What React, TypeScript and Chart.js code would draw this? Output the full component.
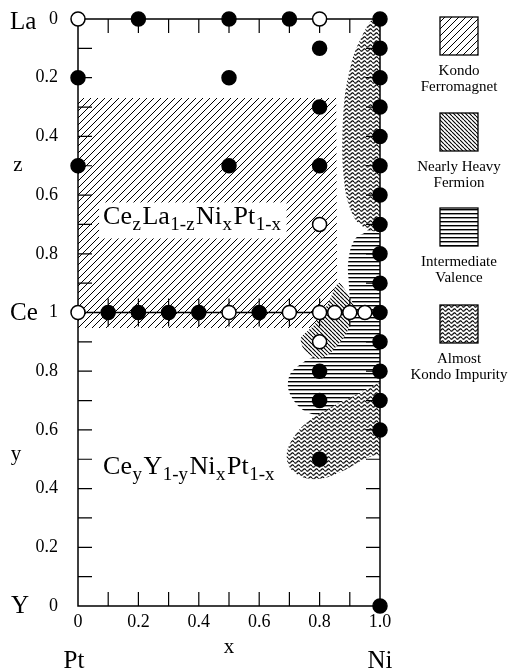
import React, { useEffect, useRef } from 'react';
import { Chart, registerables } from 'chart.js';

Chart.register(...registerables);

const FONT = '"Liberation Serif", "Times New Roman", serif';

// ---- data ----
// Upper half: Ce_z La_(1-z) Ni_x Pt_(1-x)   [x, z]   (z = 0 at La, z = 1 at Ce)
const laFilled: number[][] = [
  [0.2, 0], [0.5, 0], [0.7, 0], [1, 0],
  [0.8, 0.1], [1, 0.1],
  [0, 0.2], [0.5, 0.2], [1, 0.2],
  [0.8, 0.3], [1, 0.3],
  [1, 0.4],
  [0, 0.5], [0.5, 0.5], [0.8, 0.5], [1, 0.5],
  [1, 0.6], [1, 0.7], [1, 0.8], [1, 0.9],
];
const laOpen: number[][] = [[0, 0], [0.8, 0], [0.8, 0.7]];
// CeNi_x Pt_(1-x) line
const ceFilledX = [0.1, 0.2, 0.3, 0.4, 0.6, 1.0];
const ceOpenX = [0, 0.5, 0.7, 0.8, 0.85, 0.9, 0.95];
// Lower half: Ce_y Y_(1-y) Ni_x Pt_(1-x)   [x, y]
const yFilled: number[][] = [
  [0.8, 0.8], [0.8, 0.7], [0.8, 0.5],
  [1, 0.9], [1, 0.8], [1, 0.7], [1, 0.6], [1, 0],
];
const yOpen: number[][] = [[0.8, 0.9]];

// Regions on the combined vertical scale v (v = y in lower half, v = 2 - z in upper half)
const kondoFerro: number[][] = [
  [0, 1.731], [0.855, 1.731], [0.858, 1.09], [0.82, 0.947], [0, 0.947],
];
const intermValence: number[][] = [
  [1.03, 1.27], [0.94, 1.267], [0.907, 1.23], [0.894, 1.162], [0.897, 1.094], [0.90, 1.0],
  [0.87, 0.93], [0.80, 0.862], [0.745, 0.83], [0.705, 0.795], [0.695, 0.75], [0.709, 0.709],
  [0.745, 0.668], [0.80, 0.652], [0.87, 0.685], [0.94, 0.715], [1.0, 0.745], [1.03, 0.75],
];
const kondoImpTop: number[][] = [
  [0.99, 1.997], [0.967, 1.99], [0.935, 1.93], [0.908, 1.86], [0.882, 1.724], [0.875, 1.554],
  [0.881, 1.45], [0.892, 1.383], [0.915, 1.322], [0.95, 1.288], [0.993, 1.274], [1.03, 1.274], [1.03, 1.997],
];
const kondoImpBottom: number[][] = [
  [1.03, 0.765], [1.0, 0.762], [0.934, 0.726], [0.851, 0.685], [0.768, 0.634], [0.719, 0.583],
  [0.692, 0.525], [0.702, 0.47], [0.752, 0.436], [0.818, 0.436], [0.884, 0.463], [0.94, 0.497],
  [0.983, 0.514], [1.03, 0.53],
];
const nearlyHeavy: number[][] = [
  [0.868, 1.10], [0.913, 1.026], [0.903, 0.974], [0.886, 0.923], [0.836, 0.862], [0.795, 0.842],
  [0.750, 0.870], [0.738, 0.913], [0.782, 0.957], [0.826, 1.026], [0.849, 1.08],
];

const yTickValues = [0, 0.2, 0.4, 0.6, 0.8, 1, 1.2, 1.4, 1.6, 1.8, 2];
const legendLabels = [
  ['Kondo', 'Ferromagnet'],
  ['Nearly Heavy', 'Fermion'],
  ['Intermediate', 'Valence'],
  ['Almost', 'Kondo Impurity'],
];

// ---- patterns ----
let patternCache: any = null;
function tile(ctx: CanvasRenderingContext2D, w: number, h: number, draw: (g: CanvasRenderingContext2D) => void) {
  const c = document.createElement('canvas');
  c.width = w; c.height = h;
  const g = c.getContext('2d')!;
  g.fillStyle = '#fff';
  g.fillRect(0, 0, w, h);
  g.strokeStyle = '#000';
  g.fillStyle = '#000';
  draw(g);
  return ctx.createPattern(c, 'repeat');
}
function getPatterns(ctx: CanvasRenderingContext2D) {
  if (patternCache) return patternCache;
  const kf = tile(ctx, 7, 7, (g) => {
    g.lineWidth = 1;
    g.beginPath();
    for (const k of [-7, 0, 7]) { g.moveTo(k, 7); g.lineTo(k + 7, 0); }
    g.stroke();
  });
  const nhf = tile(ctx, 4, 4, (g) => {
    g.lineWidth = 1.1;
    g.beginPath();
    for (const k of [-4, 0, 4]) { g.moveTo(k, 0); g.lineTo(k + 4, 4); }
    g.stroke();
  });
  const iv = tile(ctx, 4, 4, (g) => {
    g.fillRect(0, 1, 4, 1.4);
  });
  const aki = tile(ctx, 6, 4, (g) => {
    g.lineWidth = 1.2;
    for (const off of [-4, 0, 4]) {
      g.beginPath();
      for (let i = 0; i <= 24; i++) {
        const xx = (i / 24) * 6;
        const yy = 2 + off + 1.2 * Math.sin((2 * Math.PI * xx) / 6);
        if (i === 0) g.moveTo(xx, yy); else g.lineTo(xx, yy);
      }
      g.stroke();
    }
  });
  patternCache = { kf, nhf, iv, aki };
  return patternCache;
}

function closedPath(ctx: CanvasRenderingContext2D, pts: number[][], k: number) {
  const n = pts.length;
  ctx.beginPath();
  ctx.moveTo(pts[0][0], pts[0][1]);
  for (let i = 0; i < n; i++) {
    const p0 = pts[(i - 1 + n) % n], p1 = pts[i], p2 = pts[(i + 1) % n], p3 = pts[(i + 2) % n];
    if (k === 0) { ctx.lineTo(p2[0], p2[1]); continue; }
    const c1x = p1[0] + ((p2[0] - p0[0]) * k) / 6, c1y = p1[1] + ((p2[1] - p0[1]) * k) / 6;
    const c2x = p2[0] - ((p3[0] - p1[0]) * k) / 6, c2y = p2[1] - ((p3[1] - p1[1]) * k) / 6;
    ctx.bezierCurveTo(c1x, c1y, c2x, c2y, p2[0], p2[1]);
  }
  ctx.closePath();
}

function drawFormula(ctx: CanvasRenderingContext2D, x0: number, base: number, parts: [string, boolean][], measureOnly = false) {
  let x = x0;
  for (const [t, sub] of parts) {
    ctx.font = sub ? `19px ${FONT}` : `26px ${FONT}`;
    const w = ctx.measureText(t).width;
    if (!measureOnly) ctx.fillText(t, x, sub ? base + 6 : base);
    x += w + (sub ? 1.5 : 0.5);
  }
  return x - x0;
}

const topFormula: [string, boolean][] = [['Ce', false], ['z', true], ['La', false], ['1-z', true], ['Ni', false], ['x', true], ['Pt', false], ['1-x', true]];
const botFormula: [string, boolean][] = [['Ce', false], ['y', true], ['Y', false], ['1-y', true], ['Ni', false], ['x', true], ['Pt', false], ['1-x', true]];

const phasePlugin = {
  id: 'phase',
  beforeDatasetsDraw(chart: any) {
    const { ctx, chartArea: a, scales } = chart;
    const xs = scales.x, ys = scales.y;
    const px = (v: number) => xs.getPixelForValue(v);
    const py = (v: number) => ys.getPixelForValue(v);
    const pats = getPatterns(ctx);
    const toPx = (arr: number[][]) => arr.map(([x, v]) => [px(x), py(v)]);

    ctx.save();
    ctx.beginPath();
    ctx.rect(a.left, a.top, a.right - a.left, a.bottom - a.top);
    ctx.clip();
    const regions: [number[][], any, number][] = [
      [kondoFerro, pats.kf, 0],
      [intermValence, pats.iv, 1],
      [kondoImpTop, pats.aki, 1],
      [kondoImpBottom, pats.aki, 1],
      [nearlyHeavy, pats.nhf, 0.6],
    ];
    for (const [pts, pat, k] of regions) {
      closedPath(ctx, toPx(pts), k);
      ctx.fillStyle = pat;
      ctx.fill();
    }
    // formula labels
    ctx.fillStyle = '#000';
    ctx.textBaseline = 'alphabetic';
    ctx.textAlign = 'left';
    const tx = px(0.083), tBase = py(1.30);
    const tw = drawFormula(ctx, tx, tBase, topFormula, true);
    ctx.fillStyle = '#fff';
    ctx.fillRect(tx - 4, tBase - 22, tw + 8, 36);
    ctx.fillStyle = '#000';
    drawFormula(ctx, tx, tBase, topFormula);
    drawFormula(ctx, px(0.083), py(0.45), botFormula);
    ctx.restore();

    // axes frame, Ce line and inward ticks
    ctx.save();
    ctx.strokeStyle = '#000';
    const T = 14;
    ctx.lineWidth = 1.2;
    ctx.beginPath();
    for (let i = 1; i < 20; i++) {
      if (i === 10) continue;
      const yy = py(i / 10);
      ctx.moveTo(a.left, yy); ctx.lineTo(a.left + T, yy);
      ctx.moveTo(a.right, yy); ctx.lineTo(a.right - T, yy);
    }
    const yc = py(1);
    for (let i = 1; i < 10; i++) {
      const xx = px(i / 10);
      ctx.moveTo(xx, a.top); ctx.lineTo(xx, a.top + T);
      ctx.moveTo(xx, a.bottom); ctx.lineTo(xx, a.bottom - T);
      ctx.moveTo(xx, yc - T); ctx.lineTo(xx, yc + T);
    }
    ctx.stroke();
    ctx.lineWidth = 1.5;
    ctx.beginPath();
    ctx.rect(a.left, a.top, a.right - a.left, a.bottom - a.top);
    ctx.moveTo(a.left, yc); ctx.lineTo(a.right, yc);
    ctx.stroke();
    ctx.restore();
  },
  afterDraw(chart: any) {
    const { ctx, scales } = chart;
    const px = (v: number) => scales.x.getPixelForValue(v);
    const py = (v: number) => scales.y.getPixelForValue(v);
    const pats = getPatterns(ctx);
    ctx.save();
    ctx.fillStyle = '#000';
    ctx.textBaseline = 'alphabetic';
    ctx.textAlign = 'left';
    ctx.font = `25px ${FONT}`;
    ctx.fillText('La', 10, py(2) + 10);
    ctx.fillText('Ce', 10, py(1) + 7);
    ctx.fillText('Y', 11, py(0) + 7);
    ctx.textAlign = 'center';
    ctx.fillText('Pt', px(0) - 4, 668);
    ctx.fillText('Ni', px(1), 668);
    ctx.font = `21px ${FONT}`;
    ctx.fillText('z', 18, py(1.5) + 5);
    ctx.fillText('y', 16, py(0.5) + 1);
    ctx.fillText('x', px(0.5), 653);

    // legend
    const boxes = [17, 113, 208, 305];
    const pk = [pats.kf, pats.nhf, pats.iv, pats.aki];
    const cx = 459;
    boxes.forEach((top, i) => {
      ctx.fillStyle = pk[i];
      ctx.fillRect(440, top, 38, 38);
      ctx.strokeStyle = '#000';
      ctx.lineWidth = 1.3;
      ctx.strokeRect(440, top, 38, 38);
      ctx.fillStyle = '#000';
      ctx.font = `15px ${FONT}`;
      ctx.textAlign = 'center';
      ctx.fillText(legendLabels[i][0], cx, top + 58);
      ctx.fillText(legendLabels[i][1], cx, top + 74);
    });
    ctx.restore();
  },
};

function fmt(v: number) {
  if (Math.abs(v) < 1e-6) return '0';
  if (Math.abs(v - 1) < 1e-6) return '1';
  return v.toFixed(1);
}

export default function App() {
  const ref = useRef<HTMLCanvasElement>(null);
  useEffect(() => {
    const canvas = ref.current!;
    const filled = [
      ...laFilled.map(([x, z]) => ({ x, y: 2 - z })),
      ...ceFilledX.map((x) => ({ x, y: 1 })),
      ...yFilled.map(([x, y]) => ({ x, y })),
    ];
    const open = [
      ...laOpen.map(([x, z]) => ({ x, y: 2 - z })),
      ...ceOpenX.map((x) => ({ x, y: 1 })),
      ...yOpen.map(([x, y]) => ({ x, y })),
    ];
    const chart = new Chart(canvas, {
      type: 'scatter',
      data: {
        datasets: [
          {
            label: 'filled', data: filled, order: 0, clip: false,
            pointRadius: 7, pointHoverRadius: 7,
            pointBackgroundColor: '#000', pointBorderColor: '#000', pointBorderWidth: 1.5,
          },
          {
            label: 'open', data: open, order: 1, clip: false,
            pointRadius: 7, pointHoverRadius: 7,
            pointBackgroundColor: '#fff', pointBorderColor: '#000', pointBorderWidth: 1.5,
          },
        ],
      },
      options: {
        animation: false,
        responsive: false,
        events: [],
        layout: { padding: { top: 19, right: 136, left: 0, bottom: 0 } },
        scales: {
          x: {
            type: 'linear', min: 0, max: 1,
            grid: { display: false, drawTicks: false },
            border: { display: false },
            ticks: {
              stepSize: 0.2, padding: 5, color: '#000', maxRotation: 0, autoSkip: false,
              font: { family: FONT, size: 18 },
              callback: (v: any) => (Number(v) === 0 ? '0' : Number(v).toFixed(1)),
            },
            afterFit: (s: any) => { s.height = 64; s.paddingLeft = 0; s.paddingRight = 0; },
          },
          y: {
            type: 'linear', min: 0, max: 2,
            grid: { display: false, drawTicks: false },
            border: { display: false },
            afterBuildTicks: (s: any) => { s.ticks = yTickValues.map((value) => ({ value })); },
            ticks: {
              padding: 20, color: '#000', autoSkip: false,
              font: { family: FONT, size: 18 },
              callback: (v: any) => { const n = Number(v); return n <= 1 + 1e-6 ? fmt(n) : fmt(2 - n); },
            },
            afterFit: (s: any) => { s.width = 78; s.paddingTop = 0; s.paddingBottom = 0; },
          },
        },
        plugins: { legend: { display: false }, tooltip: { enabled: false } },
      } as any,
      plugins: [phasePlugin as any],
    });
    return () => chart.destroy();
  }, []);
  return (
    <div style={{ position: 'fixed', left: 0, top: 0, width: 516, height: 670, background: '#fff' }}>
      <canvas ref={ref} width={516} height={670} style={{ display: 'block' }} />
    </div>
  );
}
